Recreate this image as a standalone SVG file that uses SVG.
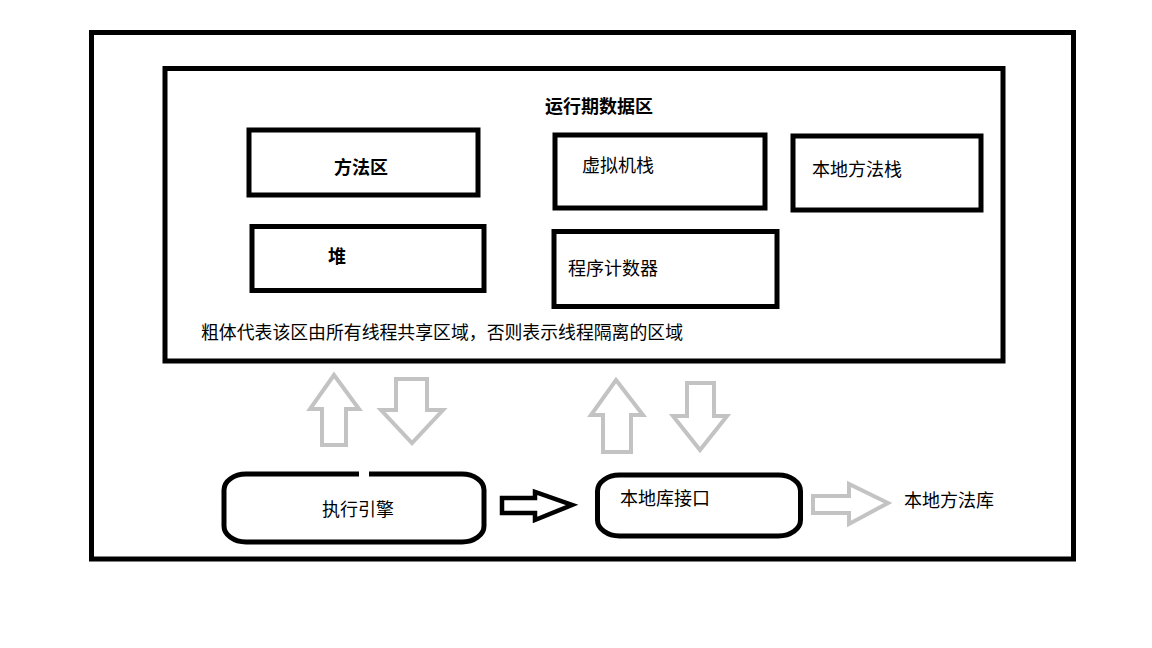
<svg xmlns="http://www.w3.org/2000/svg" width="1152" height="648" viewBox="0 0 1152 648">
<style>
.box{fill:none;stroke:#000;stroke-width:5}
.rbox{fill:#fff;stroke:#000;stroke-width:5}
.garr{fill:none;stroke:#c3c3c3;stroke-width:4;stroke-linejoin:miter}
.barr{fill:none;stroke:#000;stroke-width:4.5;stroke-linejoin:miter}
text{font-family:"Noto Sans CJK SC","Microsoft YaHei",sans-serif;font-size:18px;fill:#000}
.b{font-weight:bold}
</style>
<rect width="1152" height="648" fill="#fff"/>
<g id="jvm">
<rect class="box" x="91.5" y="32.5" width="982" height="526.5"/>
</g>
<g id="runtime-data-area">
<rect class="box" x="165" y="68.5" width="838" height="292.5"/>
<text class="b" x="545" y="113">运行期数据区</text>
<text x="201" y="339" textLength="482" lengthAdjust="spacingAndGlyphs">粗体代表该区由所有线程共享区域，否则表示线程隔离的区域</text>
</g>
<g id="method-area">
<rect class="box" x="249" y="130" width="229" height="65"/>
<text class="b" x="334" y="174">方法区</text>
</g>
<g id="heap">
<rect class="box" x="252" y="226.5" width="232" height="64"/>
<text class="b" x="328" y="263">堆</text>
</g>
<g id="vm-stack">
<rect class="box" x="555" y="135" width="210" height="73"/>
<text x="582" y="172">虚拟机栈</text>
</g>
<g id="native-method-stack">
<rect class="box" x="793" y="136" width="188" height="74"/>
<text x="812" y="176">本地方法栈</text>
</g>
<g id="program-counter">
<rect class="box" x="554" y="231.5" width="223" height="75"/>
<text x="568" y="275">程序计数器</text>
</g>
<g id="execution-engine">
<rect class="rbox" x="224" y="474" width="260" height="68" rx="22" ry="16"/>
<rect x="359" y="470" width="10" height="8" fill="#fff"/>
<text x="322" y="516">执行引擎</text>
</g>
<g id="native-interface">
<rect class="rbox" x="597.5" y="475" width="203" height="61" rx="22" ry="16"/>
<text x="620" y="505">本地库接口</text>
</g>
<g id="native-method-library">
<text x="904" y="507">本地方法库</text>
</g>
<g id="connectors">
<polygon class="garr" points="334,375 359,409 346,409 346,445 322,445 322,409 310,409"/>
<polygon class="garr" points="396,379 427,379 427,410 443,410 412,443 381,410 396,410"/>
<polygon class="garr" points="616,380 643,415 631,415 631,452 603,452 603,415 591,415"/>
<polygon class="garr" points="687,383 714,383 714,416 727,416 700,450 673,416 687,416"/>
<polygon class="barr" points="502,498 535,498 535,492 572,505 535,520 535,513 502,513"/>
<polygon class="garr" points="813,496 849,496 849,484 888,503 849,524 849,513 813,513"/>
</g>
</svg>
